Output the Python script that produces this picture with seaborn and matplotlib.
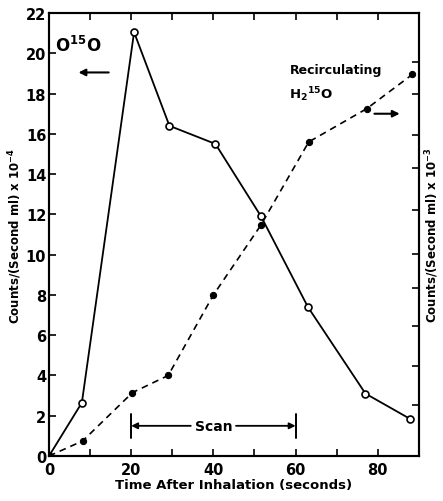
import matplotlib
matplotlib.use("Agg")
import matplotlib.pyplot as plt
import seaborn as sns
import pandas as pd
import numpy as np

# Data
time_o15o = [0, 8, 20.7, 29.3, 40.5, 51.6, 63, 77, 87.8]
counts_o15o = [0, 2.65, 21.05, 16.4, 15.5, 11.9, 7.4, 3.1, 1.85]
time_h2o = [0, 8.2, 20.3, 29, 40, 51.5, 63.2, 77.3, 88.4]
counts_h2o = [0, 0.75, 3.15, 4.0, 8.0, 11.45, 15.6, 17.25, 18.95]
x_ticks = [0, 20, 40, 60, 80]
left_ticks = list(range(0, 23, 2))
right_tick_pos = [2.55, 4.47, 6.45, 8.34, 10.03, 12.2, 14.3, 15.95, 17.97, 19.55]
scan_start, scan_end = 20, 60

sns.set_style("ticks")
plt.rcParams['font.family'] = ['DejaVu Sans']
plt.rcParams['font.weight'] = 'bold'
plt.rcParams['text.color'] = 'black'
plt.rcParams['axes.labelcolor'] = 'black'
plt.rcParams['xtick.color'] = 'black'
plt.rcParams['ytick.color'] = 'black'
plt.rcParams['axes.edgecolor'] = 'black'

fig = plt.figure(figsize=(4.43, 5.02), dpi=100)
ax = fig.add_axes([0.1106, 0.0896, 0.835, 0.8824])

df1 = pd.DataFrame({"t": time_o15o, "c": counts_o15o})
df2 = pd.DataFrame({"t": time_h2o, "c": counts_h2o})

sns.lineplot(data=df1, x="t", y="c", ax=ax, color="black", lw=1.3,
             marker="o", markersize=5, markerfacecolor="white",
             markeredgecolor="black", markeredgewidth=1.2)
sns.lineplot(data=df2, x="t", y="c", ax=ax, color="black", lw=1.2,
             linestyle=(0, (4, 3)), marker="o", markersize=4.5,
             markerfacecolor="black", markeredgecolor="black")

ax.set_xlim(0, 90)
ax.set_ylim(0, 22)
ax.set_xticks(np.arange(0, 91, 10))
ax.set_xticklabels([str(v) if v in x_ticks else "" for v in range(0, 91, 10)])
ax.set_yticks(left_ticks)
ax.tick_params(axis="both", direction="in", length=5, width=1.2, labelsize=10.5)
ax.tick_params(axis="x", top=True, pad=4)
ax.tick_params(axis="y", pad=2)
for s in ax.spines.values():
    s.set_linewidth(1.5)
    s.set_visible(True)

ax.set_xlabel("Time After Inhalation (seconds)", fontsize=9.5, fontweight="bold", labelpad=1)
ax.set_ylabel("Counts/(Second ml) x 10$^{-4}$", fontsize=8.5, fontweight="bold", labelpad=1.5)

ax2 = ax.twinx()
ax2.set_ylim(0, 22)
ax2.set_yticks(right_tick_pos)
ax2.set_yticklabels([])
ax2.tick_params(axis="y", direction="in", length=5, width=1.2)
ax2.set_ylabel("Counts/(Second ml) x 10$^{-3}$", fontsize=8.5, fontweight="bold", labelpad=0)
for s in ax2.spines.values():
    s.set_linewidth(1.5)

# Annotations
ax.text(1.5, 20.4, "O$^{15}$O", fontsize=12, fontweight="bold", ha="left", va="center")
ax.annotate("", xy=(6.5, 19.05), xytext=(15.2, 19.05),
            arrowprops=dict(arrowstyle="-|>", color="black", lw=1.5, mutation_scale=10))
ax.text(58.5, 19.2, "Recirculating", fontsize=9, fontweight="bold", ha="left", va="center")
ax.text(58.5, 18.0, "H$_2$$^{15}$O", fontsize=9.5, fontweight="bold", ha="left", va="center")
ax.annotate("", xy=(86.0, 17.0), xytext=(78.5, 17.0),
            arrowprops=dict(arrowstyle="-|>", color="black", lw=1.5, mutation_scale=10))

yscan = 1.5
ax.plot([scan_start, scan_start], [0.9, 2.1], color="black", lw=1.4)
ax.plot([scan_end, scan_end], [0.9, 2.1], color="black", lw=1.4)
ax.text((scan_start + scan_end) / 2, yscan, "Scan", fontsize=10, fontweight="bold",
        ha="center", va="center")
ax.annotate("", xy=(scan_start, yscan), xytext=(34.5, yscan),
            arrowprops=dict(arrowstyle="-|>", color="black", lw=1.3, mutation_scale=9,
                            shrinkA=0, shrinkB=0))
ax.annotate("", xy=(scan_end, yscan), xytext=(45.5, yscan),
            arrowprops=dict(arrowstyle="-|>", color="black", lw=1.3, mutation_scale=9,
                            shrinkA=0, shrinkB=0))

fig.savefig("out.png", dpi=100)
